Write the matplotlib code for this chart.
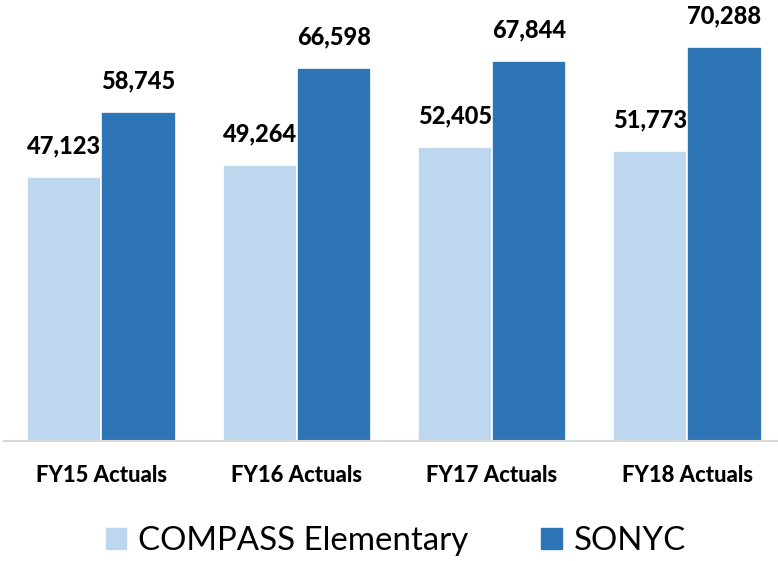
import matplotlib
matplotlib.use("Agg")
import matplotlib.pyplot as plt
from matplotlib.patches import Patch
import numpy as np

categories = ["FY15 Actuals", "FY16 Actuals", "FY17 Actuals", "FY18 Actuals"]
compass = [47123, 49264, 52405, 51773]
sonyc = [58745, 66598, 67844, 70288]
series_names = ["COMPASS Elementary", "SONYC"]
colors = ["#BDD7EE", "#2E75B6"]

plt.rcParams['font.family'] = ['Lato', 'DejaVu Sans']

W, H = 778, 561
fig = plt.figure(figsize=(W / 100, H / 100), dpi=100)
left, right = 3.8, 785.0
bottom = H - 440.5
height = 80000 * 0.005597
ax = fig.add_axes([left / W, bottom / H, (right - left) / W, height / H])

x = np.arange(len(categories))
bw = 0.38
off = 0.19
b1 = ax.bar(x - off, compass, bw, color=colors[0], edgecolor="white", linewidth=1.2, label=series_names[0])
b2 = ax.bar(x + off, sonyc, bw, color=colors[1], edgecolor="white", linewidth=1.2, label=series_names[1])

for bars, vals in ((b1, compass), (b2, sonyc)):
    for rect, v in zip(bars, vals):
        ax.annotate(f"{v:,}", (rect.get_x() + rect.get_width() / 2, v),
                    xytext=(0, 14), textcoords="offset points",
                    ha="center", va="bottom", fontsize=17, fontweight=900, color="black")

ax.set_xlim(-0.5, len(categories) - 0.5)
ax.set_ylim(0, 80000)
ax.set_xticks(x)
ax.set_xticklabels(categories, fontsize=15.8, fontweight=900)
ax.tick_params(axis="x", length=0, pad=18)
ax.set_yticks([])
for s in ("top", "right", "left"):
    ax.spines[s].set_visible(False)
ax.spines["bottom"].set_color("#D9D9D9")
ax.spines["bottom"].set_linewidth(1.5)

handles = [Patch(color=c) for c in colors]
fig.legend(handles, series_names, loc="center", bbox_to_anchor=(396 / W, 1 - 541 / H),
           ncol=2, frameon=False, fontsize=23.8, handlelength=0.63, handleheight=0.63,
           handletextpad=0.36, columnspacing=2.2)

fig.savefig("out.png", dpi=100)
